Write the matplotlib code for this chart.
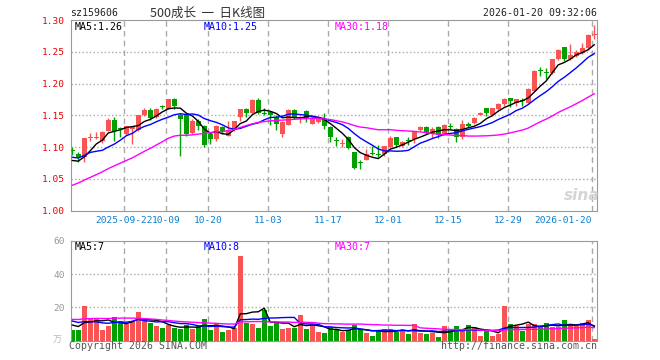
import numpy as np
import matplotlib
matplotlib.use("Agg")
from matplotlib import pyplot as plt

# daily K-line, 2025-09-09 .. 2026-01-20 (88 sessions)
opens = [1.096, 1.089, 1.084, 1.1145, 1.115, 1.109, 1.126, 1.142, 1.1305, 1.1205,
         1.129, 1.127, 1.150, 1.158, 1.147, 1.1645, 1.1607, 1.176, 1.150, 1.150,
         1.123, 1.1415, 1.1325, 1.1205, 1.113, 1.131, 1.118, 1.1275, 1.148, 1.1605,
         1.153, 1.174, 1.154, 1.1555, 1.1475, 1.1205, 1.1355, 1.1585, 1.1465, 1.1565,
         1.137, 1.140, 1.144, 1.131, 1.1095, 1.1055, 1.1155, 1.092, 1.077, 1.080,
         1.091, 1.089, 1.089, 1.0995, 1.1155, 1.1025, 1.111, 1.1125, 1.127, 1.132,
         1.1205, 1.132, 1.1205, 1.1315, 1.1285, 1.1155, 1.1365, 1.1385, 1.151, 1.161,
         1.1505, 1.1595, 1.1675, 1.177, 1.169, 1.1735, 1.170, 1.189, 1.2205, 1.217,
         1.216, 1.238, 1.2575, 1.239, 1.244, 1.248, 1.256, 1.2765]
highs = [1.100, 1.093, 1.115, 1.123, 1.124, 1.126, 1.146, 1.147, 1.132, 1.134,
         1.134, 1.151, 1.162, 1.162, 1.162, 1.167, 1.176, 1.177, 1.1545, 1.154,
         1.145, 1.145, 1.1345, 1.123, 1.1345, 1.1325, 1.141, 1.141, 1.1605, 1.162,
         1.175, 1.1775, 1.162, 1.157, 1.150, 1.1415, 1.1595, 1.1595, 1.149, 1.1585,
         1.1465, 1.149, 1.1535, 1.1325, 1.1155, 1.1125, 1.117, 1.092, 1.079, 1.097,
         1.1025, 1.104, 1.102, 1.117, 1.116, 1.110, 1.1155, 1.1245, 1.1335, 1.1335,
         1.132, 1.1335, 1.136, 1.1375, 1.130, 1.1425, 1.1395, 1.1475, 1.156, 1.161,
         1.162, 1.170, 1.178, 1.178, 1.176, 1.178, 1.1935, 1.222, 1.2265, 1.225,
         1.239, 1.2545, 1.2575, 1.263, 1.2535, 1.264, 1.278, 1.2925]
lows = [1.088, 1.076, 1.077, 1.109, 1.113, 1.107, 1.125, 1.110, 1.116, 1.119,
        1.105, 1.125, 1.149, 1.1425, 1.146, 1.160, 1.160, 1.160, 1.0855, 1.118,
        1.120, 1.127, 1.101, 1.105, 1.110, 1.1205, 1.117, 1.126, 1.141, 1.148,
        1.152, 1.1515, 1.150, 1.135, 1.127, 1.1165, 1.135, 1.145, 1.138, 1.140,
        1.136, 1.138, 1.1285, 1.1085, 1.1025, 1.1005, 1.0975, 1.066, 1.066, 1.079,
        1.088, 1.085, 1.0865, 1.0985, 1.101, 1.101, 1.104, 1.106, 1.126, 1.1205,
        1.115, 1.115, 1.1195, 1.128, 1.1075, 1.113, 1.132, 1.137, 1.150, 1.149,
        1.149, 1.158, 1.165, 1.163, 1.164, 1.165, 1.169, 1.188, 1.212, 1.2075,
        1.2145, 1.237, 1.235, 1.237, 1.2425, 1.247, 1.2535, 1.270]
closes = [1.094, 1.085, 1.114, 1.116, 1.116, 1.124, 1.142, 1.126, 1.129, 1.1335,
          1.131, 1.150, 1.158, 1.146, 1.160, 1.163, 1.175, 1.164, 1.145, 1.1205,
          1.141, 1.1325, 1.103, 1.1128, 1.1335, 1.124, 1.1275, 1.141, 1.1595, 1.153,
          1.174, 1.153, 1.152, 1.150, 1.136, 1.140, 1.1585, 1.148, 1.147, 1.146,
          1.145, 1.1465, 1.1325, 1.1155, 1.109, 1.106, 1.0987, 1.0675, 1.0755, 1.089,
          1.090, 1.088, 1.102, 1.115, 1.104, 1.1085, 1.110, 1.1245, 1.132, 1.123,
          1.128, 1.1195, 1.1345, 1.131, 1.1165, 1.137, 1.1335, 1.1465, 1.153, 1.153,
          1.162, 1.1685, 1.175, 1.1725, 1.175, 1.173, 1.192, 1.2205, 1.2195, 1.216,
          1.238, 1.2535, 1.239, 1.2455, 1.2495, 1.256, 1.277, 1.2775]
# volume in 万
volumes = [6.4, 6.4, 20.8, 12.8, 13.4, 6.4, 8.8, 14.0, 12.0, 10.0,
           12.0, 17.2, 13.0, 10.4, 8.8, 7.6, 9.2, 7.6, 7.2, 9.6,
           7.2, 8.8, 13.0, 6.4, 10.4, 5.2, 6.6, 7.6, 50.8, 10.8,
           10.0, 7.6, 18.4, 8.8, 10.8, 7.2, 7.6, 7.6, 15.6, 7.2,
           9.4, 5.2, 4.4, 8.0, 7.2, 5.2, 6.4, 9.4, 6.8, 4.4,
           2.8, 6.4, 7.0, 7.0, 5.2, 6.4, 4.0, 10.0, 4.4, 4.0,
           4.8, 2.2, 8.8, 7.0, 8.8, 5.8, 9.4, 8.2, 2.8, 6.0,
           2.8, 4.0, 20.8, 10.0, 9.0, 6.0, 10.0, 10.0, 8.0, 10.6,
           8.0, 8.0, 12.4, 10.0, 9.0, 10.4, 12.4, 1.0]
# sessions before the window, needed for the moving averages at the left edge
prior_closes = [0.975, 0.980, 0.985, 0.990, 0.988, 0.992, 0.996, 1.000, 1.010,
                1.005, 0.998, 1.002, 1.008, 1.000, 1.010, 1.010,
                1.060, 1.110, 1.120, 1.121, 1.095, 1.075, 1.068,
                1.098, 1.109, 1.090, 1.080, 1.068, 1.063]
prior_volumes = [9, 8, 10, 9, 8, 9, 10, 9, 8.6,
                 14, 18, 22, 16, 15, 20, 17, 19, 15, 16, 13.4,
                 15, 16, 13, 14, 13, 11, 9, 10.6, 10]

tick_idx = [9, 16, 23, 33, 43, 53, 63, 73, 87]
tick_labels = ["2025-09-22", "10-09", "10-20", "11-03", "11-17", "12-01",
               "12-15", "12-29", "2026-01-20"]
price_ticks = [1.00, 1.05, 1.10, 1.15, 1.20, 1.25, 1.30]
vol_ticks = [20, 40, 60]

RED = "#f85454"
GREEN = "#00a000"
GRID = "#aaaaaa"
MONO = "DejaVu Sans Mono"
CJK = ["Noto Sans CJK SC", "DejaVu Sans"]


def ma(prev, vals, n):
    s = np.concatenate([prev, vals])
    out = np.convolve(s, np.ones(n) / n, mode="valid")
    return out[-len(vals):]


o = np.array(opens); h = np.array(highs); l = np.array(lows); c = np.array(closes)
v = np.array(volumes)
x = np.arange(len(c))
up = c >= o
cols = np.where(up, RED, GREEN)

fig = plt.figure(figsize=(6.6, 3.6), dpi=100)
ax = fig.add_axes([0.1071, 0.4147, 0.7974, 0.5297])
axv = fig.add_axes([0.1071, 0.0536, 0.7974, 0.2778])

gridx = [t - 0.33 for t in tick_idx]
for a in (ax, axv):
    for gx in gridx:
        a.axvline(gx, color=GRID, lw=1, dashes=(4, 3), zorder=0)
    for s in a.spines.values():
        s.set_color("#999999")
    a.set_xlim(-0.27, 87.45)
    a.tick_params(length=0)

for yy in price_ticks[1:-1]:
    ax.axhline(yy, color=GRID, lw=1, ls=":", zorder=0)
for yy in vol_ticks[:-1]:
    axv.axhline(yy, color=GRID, lw=1, ls=":", zorder=0)

# candles
ax.vlines(x, l, h, colors=cols, lw=1, zorder=2)
body = np.maximum(np.abs(c - o), 0.0015)
ax.bar(x, body, bottom=np.minimum(o, c), width=0.78, color=cols, lw=0, zorder=3)

ax.plot(x, ma(prior_closes, c, 5), color="black", lw=1, zorder=4)
ax.plot(x, ma(prior_closes, c, 10), color="#0000ff", lw=1, zorder=4)
ax.plot(x, ma(prior_closes, c, 30), color="#ff00ff", lw=1, zorder=4)

ax.set_ylim(1.0, 1.30)
ax.set_yticks(price_ticks)
ax.set_yticklabels(["%.2f" % t for t in price_ticks], color="#ee0000",
                   family=MONO, fontsize=6.8)
ax.tick_params(axis="y", pad=4)
ax.set_xticks(gridx)
ax.set_xticklabels(tick_labels, color="#0a7fd0", family=MONO, fontsize=6.8)
ax.tick_params(axis="x", pad=4)
ax.get_xticklabels()[-1].set_ha("right")

ax.text(0.007, 0.963, "MA5:1.26", transform=ax.transAxes, color="black",
        family=MONO, fontsize=7.2, va="center")
ax.text(0.253, 0.963, "MA10:1.25", transform=ax.transAxes, color="#0000ff",
        family=MONO, fontsize=7.2, va="center")
ax.text(0.502, 0.963, "MA30:1.18", transform=ax.transAxes, color="#ff00ff",
        family=MONO, fontsize=7.2, va="center")

# volume
axv.bar(x, v, width=0.8, color=cols, lw=0, zorder=2)
axv.plot(x, ma(prior_volumes, v, 5), color="black", lw=1, zorder=3)
axv.plot(x, ma(prior_volumes, v, 10), color="#0000ff", lw=1, zorder=3)
axv.plot(x, ma(prior_volumes, v, 30), color="#ff00ff", lw=1, zorder=3)
axv.set_ylim(0, 60)
axv.set_yticks(vol_ticks)
axv.set_yticklabels([str(t) for t in vol_ticks], color="#999999",
                    family=MONO, fontsize=6.8)
axv.tick_params(axis="y", pad=4)
axv.set_xticks(gridx)
axv.set_xticklabels([])

axv.text(0.007, 0.94, "MA5:7", transform=axv.transAxes, color="black",
         family=MONO, fontsize=7.2, va="center")
axv.text(0.253, 0.94, "MA10:8", transform=axv.transAxes, color="#0000ff",
         family=MONO, fontsize=7.2, va="center")
axv.text(0.502, 0.94, "MA30:7", transform=axv.transAxes, color="#ff00ff",
         family=MONO, fontsize=7.2, va="center")

# header / footer
fig.text(70 / 660, 1 - 13 / 360, "sz159606", family=MONO, fontsize=7.1,
         va="center", ha="left", color="#222222")
fig.text(150 / 660, 1 - 13 / 360, "500成长  一  日K线图", family=CJK, fontsize=9,
         va="center", ha="left", color="#333333")
fig.text(597 / 660, 1 - 13 / 360, "2026-01-20 09:32:06", family=MONO,
         fontsize=7.1, va="center", ha="right", color="#222222")
fig.text(69 / 660, 1 - 346 / 360, "Copyright 2026 SINA.COM", family=MONO,
         fontsize=7.1, va="center", ha="left", color="#555555")
fig.text(597 / 660, 1 - 346 / 360, "http://finance.sina.com.cn", family=MONO,
         fontsize=7.1, va="center", ha="right", color="#555555")
fig.text(57 / 660, 1 - 340 / 360, "万", family=CJK, fontsize=6.5,
         va="center", ha="center", color="#bbbbbb")
fig.text(582 / 660, 1 - 195 / 360, "sina", fontsize=11, fontweight="bold",
         style="italic", va="center", ha="center", color="#d4d4d4")

fig.savefig("out.png", dpi=100, facecolor="white")
